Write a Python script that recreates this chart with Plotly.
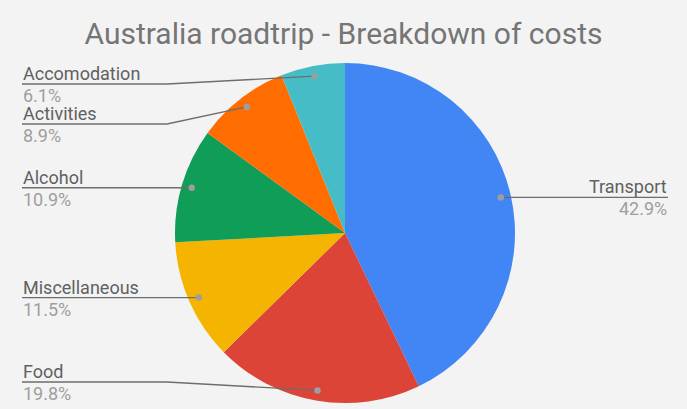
import math
import plotly.graph_objects as go

labels = ["Transport", "Food", "Miscellaneous", "Alcohol", "Activities", "Accomodation"]
shares = [42.9, 19.8, 11.5, 10.9, 8.9, 6.1]
pct_text = ["42.9%", "19.8%", "11.5%", "10.9%", "8.9%", "6.1%"]
colors = ["#4285f4", "#db4437", "#f4b400", "#0f9d58", "#ff6d00", "#46bdc6"]

W, H = 687, 409
cx, cy, r = 345, 233, 170   # pie centre / radius in pixels
left_x, right_x = 22, 668


def px(x):
    return x / W


def py(y):
    return 1 - y / H


fig = go.Figure()
fig.add_trace(go.Pie(
    labels=labels,
    values=shares,
    sort=False,
    direction="clockwise",
    rotation=0,
    marker=dict(colors=colors, line=dict(width=0)),
    textinfo="none",
    hoverinfo="label+percent",
    showlegend=False,
    domain=dict(x=[px(cx - r), px(cx + r)], y=[py(cy + r), py(cy - r)]),
))

# dot positions at the middle of each slice
total = sum(shares)
cum = 0
dots = []
for v in shares:
    a = (cum + v / 2) / total * 2 * math.pi
    cum += v
    dots.append((cx + 0.94 * r * math.sin(a), cy - 0.94 * r * math.cos(a)))

# place label lines, pushing apart labels that would overlap
line_y = [0] * len(labels)
for side in ("left", "right"):
    idx = [i for i, d in enumerate(dots) if (d[0] < cx) == (side == "left")]
    idx.sort(key=lambda i: dots[i][1])
    prev = None
    for i in idx:
        y = min(max(dots[i][1], 84), 382)
        if prev is not None and y < prev + 40:
            y = prev + 40
        line_y[i] = y
        prev = y

shapes = []
annotations = []
for i, lab in enumerate(labels):
    dx, dy = dots[i]
    ly = line_y[i]
    if dx < cx:
        bend = cx - r - 8
        pts = [(left_x, ly), (bend, ly), (dx, dy)] if dx > bend else [(left_x, ly), (dx, dy)]
        tx, anchor = left_x, "left"
    else:
        bend = cx + r + 8
        pts = [(dx, dy), (bend, ly), (right_x, ly)] if dx < bend else [(dx, dy), (right_x, ly)]
        tx, anchor = right_x, "right"
    path = "M " + " L ".join(f"{px(x):.5f},{py(y):.5f}" for x, y in pts)
    shapes.append(dict(type="path", path=path, xref="paper", yref="paper",
                       line=dict(color="#6d6d6d", width=1.3), layer="above"))
    shapes.append(dict(type="circle", xref="paper", yref="paper",
                       xsizemode="pixel", ysizemode="pixel",
                       xanchor=px(dx), yanchor=py(dy), x0=-3.2, x1=3.2, y0=-3.2, y1=3.2,
                       fillcolor="#9e9e9e", line=dict(width=0), layer="above"))
    annotations.append(dict(x=px(tx), y=py(ly + 1), xref="paper", yref="paper",
                            text=lab, showarrow=False, xanchor=anchor, yanchor="bottom",
                            borderpad=0, font=dict(family="Roboto", size=18, color="#616161")))
    annotations.append(dict(x=px(tx), y=py(ly), xref="paper", yref="paper",
                            text=pct_text[i], showarrow=False, xanchor=anchor, yanchor="top",
                            borderpad=0, font=dict(family="Roboto", size=18, color="#9e9e9e")))

fig.update_layout(
    width=W, height=H,
    margin=dict(l=0, r=0, t=0, b=0),
    paper_bgcolor="#f3f3f3",
    plot_bgcolor="#f3f3f3",
    title=dict(text="Australia roadtrip - Breakdown of costs",
               x=0.5, xanchor="center", y=py(33), yanchor="middle",
               font=dict(family="Roboto", size=30, color="#757575")),
    shapes=shapes,
    annotations=annotations,
)

fig.write_html("out.html",
               config={"displayModeBar": False},
               post_script="document.body.style.margin='0';"
                           "document.body.style.background='#f3f3f3';")
